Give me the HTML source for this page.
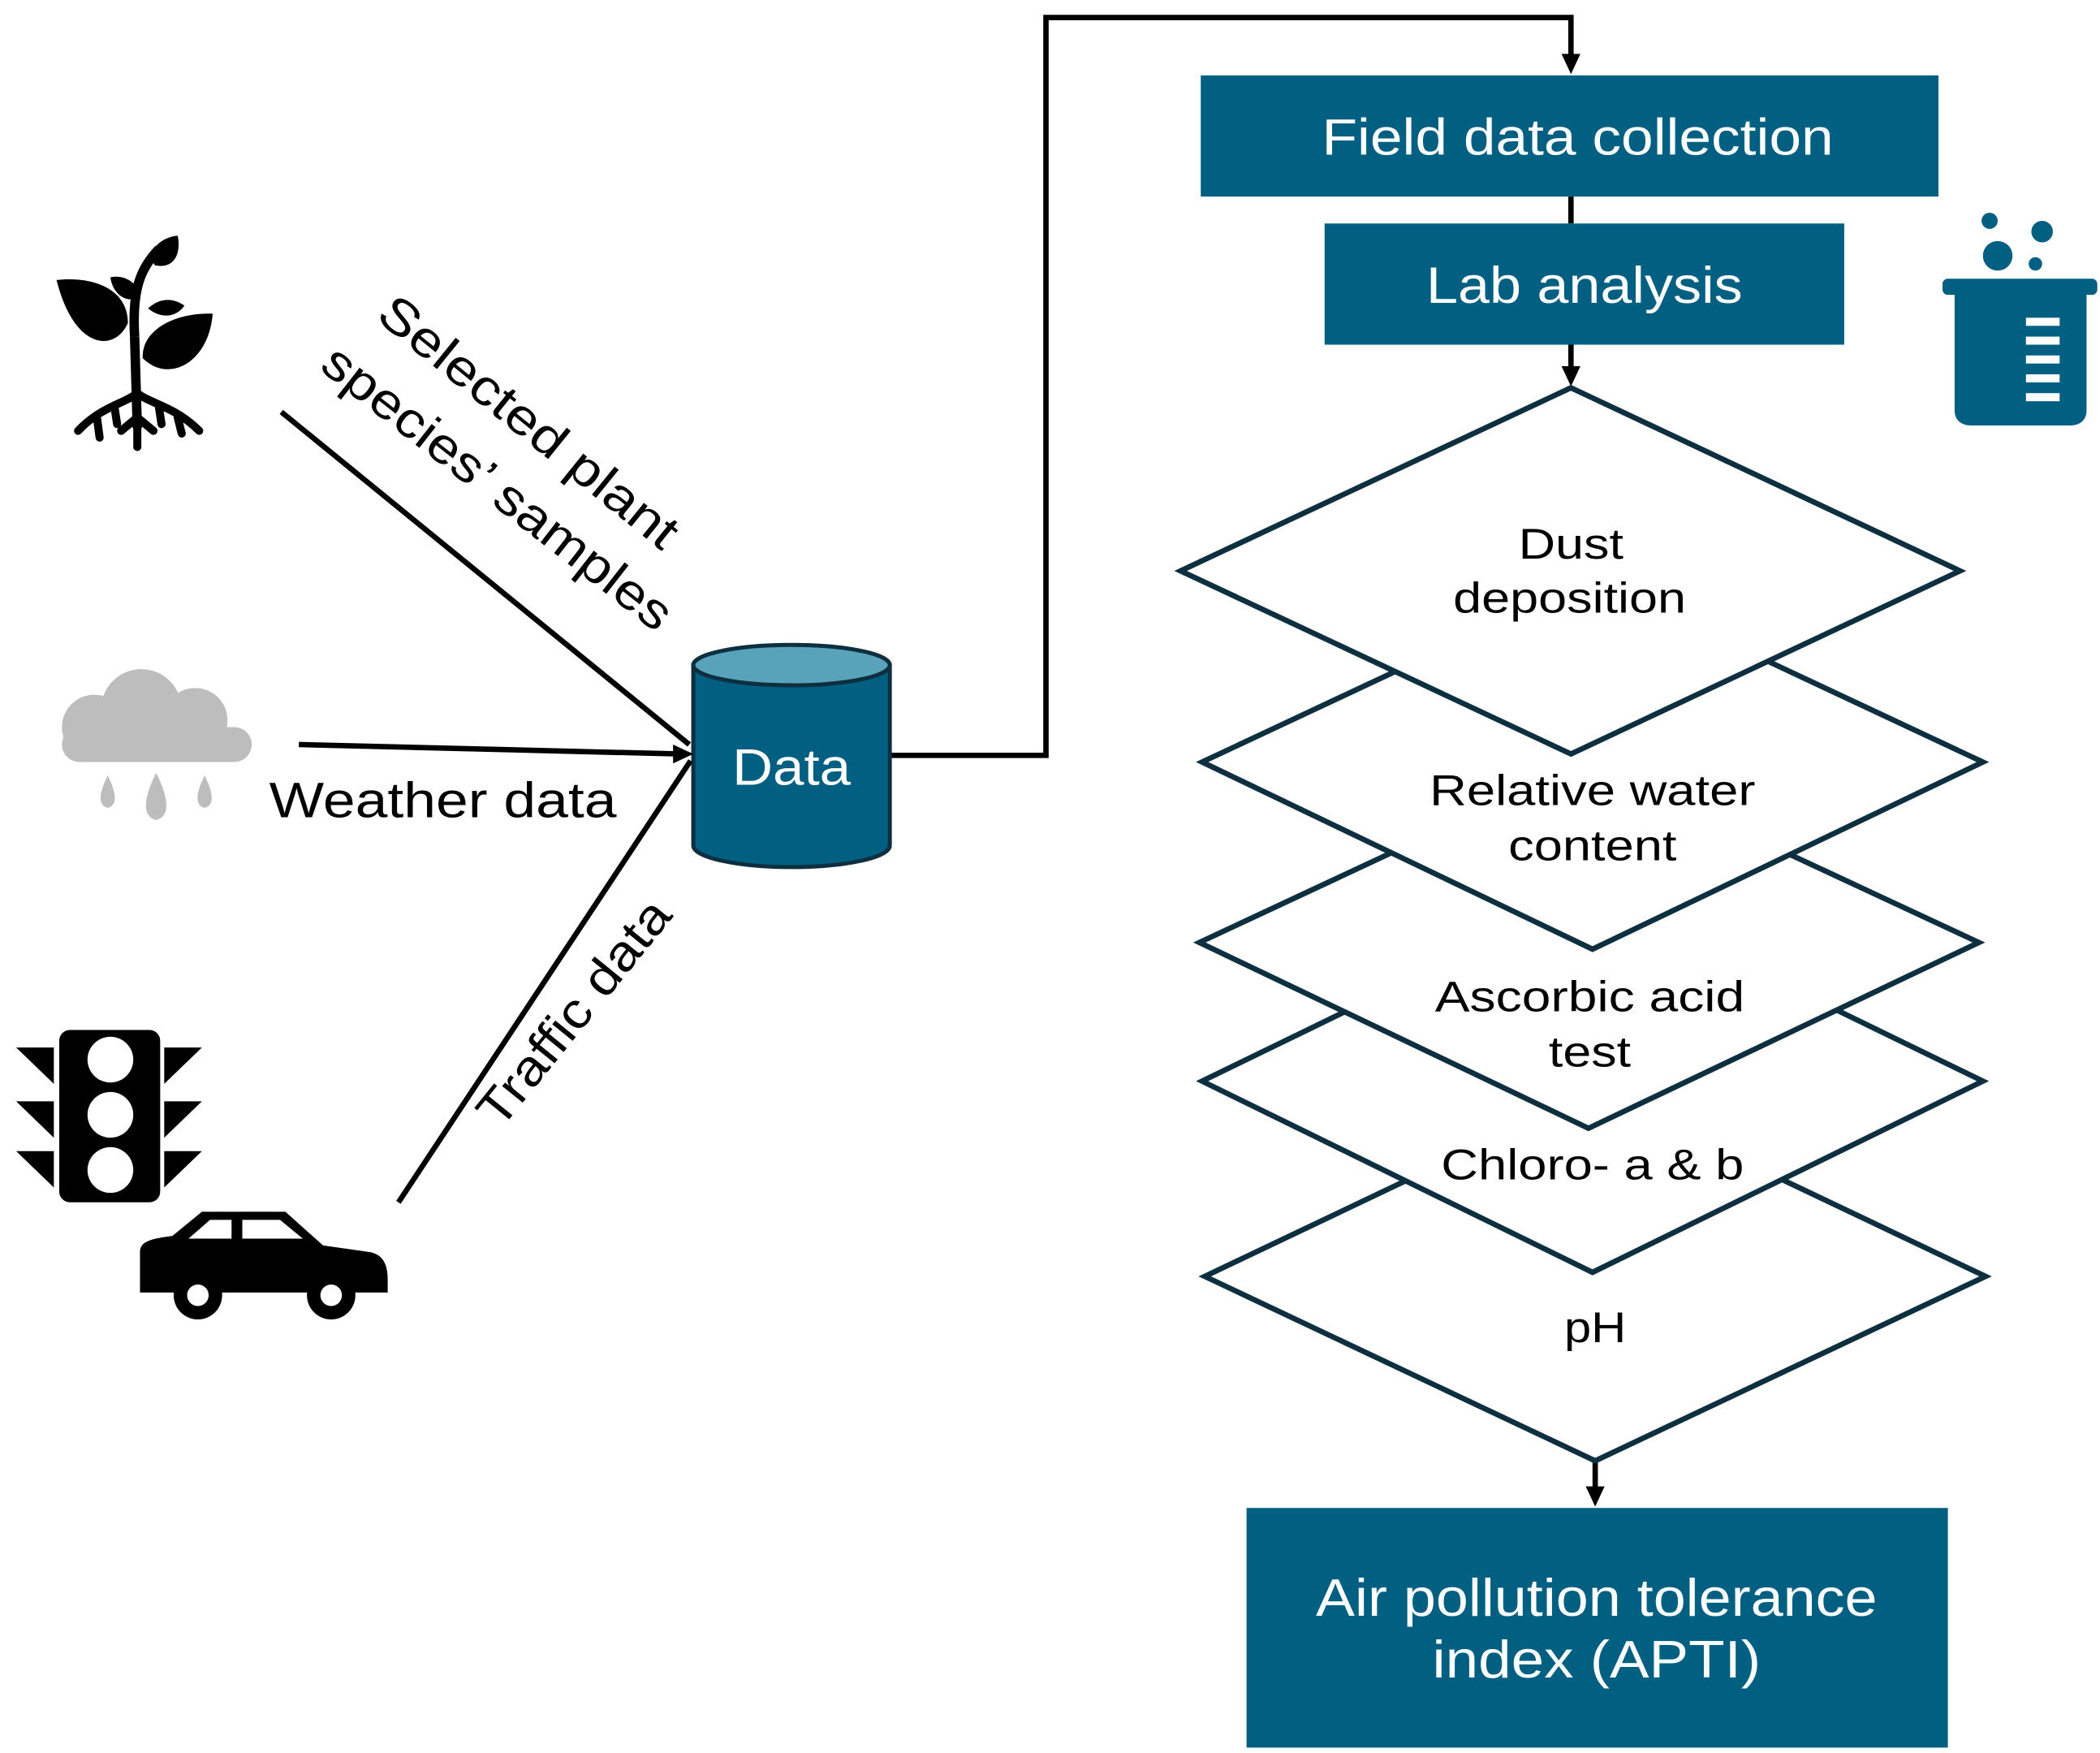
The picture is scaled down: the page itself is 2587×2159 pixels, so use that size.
<!DOCTYPE html>
<html><head><meta charset="utf-8"><style>html,body{margin:0;padding:0;background:#fff}svg{display:block}</style></head>
<body>
<svg width="2587" height="2159" viewBox="0 0 1560 1302" preserveAspectRatio="none" xmlns="http://www.w3.org/2000/svg" font-family="Liberation Sans, Arial, sans-serif">
<rect width="1560" height="1302" fill="#fff"/>
<polyline points="662,561 777,561 777,13 1167,13 1167,50" fill="none" stroke="#000" stroke-width="4"/>
<path d="M1160,40 L1174,40 L1167,55 z" fill="#000"/>
<line x1="1167" y1="146" x2="1167" y2="166" stroke="#000" stroke-width="4"/>
<line x1="1167" y1="256" x2="1167" y2="280" stroke="#000" stroke-width="4"/>
<path d="M1160,272 L1174,272 L1167,287 z" fill="#000"/>
<line x1="1185" y1="1085" x2="1185" y2="1110" stroke="#000" stroke-width="4"/>
<path d="M1178,1104 L1192,1104 L1185,1119 z" fill="#000"/>
<rect x="892" y="56" width="548" height="90" fill="#015f82"/>
<text x="1172" y="115" font-size="38" fill="#fff" text-anchor="middle" textLength="380" lengthAdjust="spacingAndGlyphs">Field data collection</text>
<rect x="984" y="166" width="386" height="90" fill="#015f82"/>
<text x="1177" y="225" font-size="38" fill="#fff" text-anchor="middle" textLength="235" lengthAdjust="spacingAndGlyphs">Lab analysis</text>
<rect x="926" y="1120" width="521" height="178" fill="#015f82"/>
<text x="1186" y="1200" font-size="39" fill="#fff" text-anchor="middle" textLength="417" lengthAdjust="spacingAndGlyphs">Air pollution tolerance</text>
<text x="1186" y="1246" font-size="39" fill="#fff" text-anchor="middle" textLength="244" lengthAdjust="spacingAndGlyphs">index (APTI)</text>
<g fill="#fff" stroke="#0d2f3f" stroke-width="4">
<polygon points="1185,810 1475,948 1185,1085 895,948"/>
<polygon points="1183,662 1473,803 1183,945 893,803"/>
<polygon points="1180,565 1470,700 1180,838 891,700"/>
<polygon points="1183,430 1473,566 1183,705 893,566"/>
<polygon points="1167,288 1456,424 1167,560 877,424"/>
</g>
<g font-size="32" fill="#000" text-anchor="middle">
<text x="1167" y="415" textLength="78" lengthAdjust="spacingAndGlyphs">Dust</text>
<text x="1166" y="455" textLength="173" lengthAdjust="spacingAndGlyphs">deposition</text>
<text x="1183" y="598" textLength="242" lengthAdjust="spacingAndGlyphs">Relative water</text>
<text x="1183" y="639" textLength="125" lengthAdjust="spacingAndGlyphs">content</text>
<text x="1181" y="751" textLength="230" lengthAdjust="spacingAndGlyphs">Ascorbic acid</text>
<text x="1181" y="792" textLength="61" lengthAdjust="spacingAndGlyphs">test</text>
<text x="1183" y="876" textLength="225" lengthAdjust="spacingAndGlyphs">Chloro- a &amp; b</text>
<text x="1185" y="997" textLength="46" lengthAdjust="spacingAndGlyphs">pH</text>
</g>
<path d="M515,494 L515,628 A73,16 0 0 0 661,628 L661,494 z" fill="#015f82" stroke="#0d2f3f" stroke-width="3"/>
<ellipse cx="588" cy="494" rx="73" ry="15" fill="#58a3b9" stroke="#0d2f3f" stroke-width="3"/>
<text x="588" y="583" font-size="38" fill="#fff" text-anchor="middle" textLength="88" lengthAdjust="spacingAndGlyphs">Data</text>
<line x1="209" y1="306" x2="512" y2="553" stroke="#000" stroke-width="4"/>
<line x1="222" y1="553" x2="505" y2="560" stroke="#000" stroke-width="4"/>
<path d="M500,553 L515,560 L500,567 z" fill="#000"/>
<line x1="296" y1="893" x2="513" y2="565" stroke="#000" stroke-width="4"/>
<g font-size="37" fill="#000">
<text transform="translate(385,323) rotate(39)" text-anchor="middle" textLength="275" lengthAdjust="spacingAndGlyphs">Selected plant</text>
<text transform="translate(362,372) rotate(38)" text-anchor="middle" textLength="319" lengthAdjust="spacingAndGlyphs">species’ samples</text>
<text x="200" y="607" textLength="258" lengthAdjust="spacingAndGlyphs">Weather data</text>
<text transform="translate(436,760) rotate(-51)" text-anchor="middle" textLength="205" lengthAdjust="spacingAndGlyphs">Traffic data</text>
</g>
<g fill="#000">
<path d="M100,250 C98,215 104,200 118,185" stroke="#000" stroke-width="7" fill="none"/>
<path d="M100,250 L102,318" stroke="#000" stroke-width="7" fill="none"/>
<path d="M42,208 C70,205 95,215 95,240 C85,262 55,260 42,208 z"/>
<path d="M158,233 C130,232 105,245 106,266 C125,285 155,270 158,233 z"/>
<path d="M132,175 C120,176 108,186 115,197 C128,200 135,190 132,175 z"/>
<path d="M82,206 C90,204 102,208 104,220 C96,226 84,220 82,206 z"/>
<path d="M110,229 C120,220 130,222 137,227 C130,237 118,236 110,229 z"/>
<path d="M58,320 C75,302 92,300 102,292 C112,300 130,302 148,320" stroke="#000" stroke-width="6" fill="none" stroke-linecap="round"/>
<path d="M102,305 L102,332 M90,320 L102,310 L114,320 M72,310 L74,325 M132,310 L135,322 M85,302 L87,315 M118,302 L120,315" stroke="#000" stroke-width="6" fill="none" stroke-linecap="round"/>
</g>
<g fill="#bdbdbd">
<circle cx="105" cy="527" r="30"/>
<circle cx="70" cy="540" r="24"/>
<circle cx="145" cy="535" r="24"/>
<rect x="46" y="540" width="141" height="26" rx="13"/>
<path d="M80,576 C74,588 72,598 80,600 C88,598 86,588 80,576 z"/>
<path d="M116,574 C108,590 104,606 116,609 C128,606 124,590 116,574 z"/>
<path d="M152,576 C146,588 144,598 152,600 C160,598 158,588 152,576 z"/>
</g>
<g fill="#000">
<rect x="44" y="765" width="75" height="128" rx="8"/>
<path d="M12,778 L40,778 L40,805 z M12,818 L40,818 L40,845 z M12,855 L40,855 L40,882 z"/>
<path d="M150,778 L122,778 L122,805 z M150,818 L122,818 L122,845 z M150,855 L122,855 L122,882 z"/>
</g>
<g fill="#fff"><circle cx="82" cy="787" r="17"/><circle cx="82" cy="828" r="17"/><circle cx="82" cy="869" r="17"/></g>
<g fill="#000">
<path d="M104,930 C104,922 112,920 128,918 L150,900 L212,900 L240,925 L275,930 C285,932 288,940 288,950 L288,960 L104,960 z"/>
<circle cx="147" cy="962" r="18"/><circle cx="246" cy="962" r="18"/>
</g>
<g fill="#fff"><path d="M140,920 L156,906 L172,906 L172,920 z"/><path d="M180,906 L208,906 L225,920 L180,920 z"/><circle cx="147" cy="962" r="8"/><circle cx="246" cy="962" r="8"/></g>
<g fill="#015f82">
<circle cx="1478" cy="164" r="6"/><circle cx="1517" cy="172" r="8"/><circle cx="1484" cy="190" r="11"/><circle cx="1512" cy="196" r="5"/>
<rect x="1443" y="207" width="115" height="12" rx="4"/>
<path d="M1452,215 L1550,215 L1550,305 C1550,312 1545,316 1538,316 L1464,316 C1457,316 1452,312 1452,305 z"/>
</g>
<g fill="#fff"><rect x="1505" y="236" width="25" height="6"/><rect x="1505" y="250" width="25" height="6"/><rect x="1505" y="264" width="25" height="6"/><rect x="1505" y="278" width="25" height="6"/><rect x="1505" y="292" width="25" height="6"/></g>
</svg>
</body></html>
